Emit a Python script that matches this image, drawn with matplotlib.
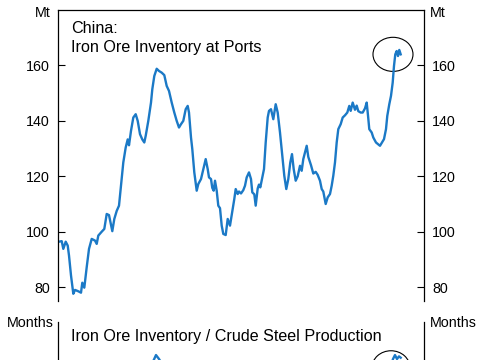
import matplotlib.pyplot as plt
from matplotlib.patches import Ellipse

plt.rcParams['font.family'] = ['Liberation Sans', 'DejaVu Sans']

# top panel: iron ore inventory at Chinese ports (Mt) against position on the time axis
t_inv = [1, 3.7, 5.3, 7.7, 9.7, 11, 13, 15.3, 17, 20.3,
         23, 24.3, 26.3, 28.7, 31, 33.7, 37, 38.7, 40.3, 43.7,
         46.3, 48.7, 51, 53, 54.3, 56.3, 58.7, 61, 63, 65.3,
         67.7, 69.7, 71, 73, 75.3, 77.7, 79.7, 82, 84.3, 86.3,
         87.7, 90.3, 93, 94.3, 96.3, 98.7, 101, 103.7, 106.3, 108.7,
         111, 113.7, 116.3, 118.7, 121, 123, 125.3, 127.7, 129.7, 131,
         133, 134.3, 136.3, 138.7, 140.3,
         143, 145.3, 147.7, 149.7, 151, 153, 154.3, 155.7, 157, 158.7,
         160.3, 162, 163.7, 165.3, 167.7, 169.7, 172, 173.7, 176.3, 177.7,
         179.7, 181, 183, 185.3, 187, 188.7, 191, 193, 194.3, 196.3,
         197.7, 199.7, 201, 202.3, 204.3, 206, 207.7, 209.7, 211, 213,
         215.3, 217.7, 219.7, 222, 224.3, 226.3, 228.3, 230.3, 232.3, 234,
         235.7, 237.7, 239.7, 242, 243.7, 245.3, 247, 248.7, 250.3, 253,
         255.3, 257.7, 259.7, 262, 263.7, 265.3, 267.7, 269.7, 272, 273.7,
         275.3,
         277, 278.7, 280.3, 282.7, 284.7, 287, 289.3, 291.3, 292.7, 294.7,
         297, 298.7, 300.3, 302.7, 304.7, 307, 308.7, 310, 311.3, 313.7,
         315.3, 318, 320.3, 322, 323.7, 326, 328, 329.3, 331.3, 333,
         334.7, 336, 337.3, 338.7, 340, 341.3, 342.7]
inventory = [96.4, 96.6, 93.8, 96.4, 95.0, 91.4, 84.2, 77.6, 79.0, 78.5,
             78.0, 81.6, 79.8, 87.2, 93.8, 97.4, 96.8, 95.6, 98.6, 100.0,
             101.0, 106.4, 106.0, 102.4, 100.2, 104.6, 107.5, 109.4, 116.6, 125.0,
             130.4, 133.3, 131.2, 136.4, 141.2, 142.4, 140.0, 135.2, 133.3, 132.2,
             134.6, 140.0, 146.6, 151.4, 156.2, 158.8, 158.0, 157.4, 156.5, 152.6,
             150.8, 146.6, 143.0, 140.0, 137.6, 138.8, 140.0, 144.2, 145.4, 143.0,
             134.0, 129.8, 121.4, 114.8, 117.2,
             119.0, 122.6, 126.2, 122.6, 119.6, 119.0, 115.8, 114.8, 118.4, 114.8,
             109.4, 108.5, 102.2, 99.2, 98.8, 104.6, 102.2, 106.0, 111.8, 115.4,
             113.6, 114.5, 113.8, 115.0, 116.6, 119.6, 121.4, 119.0, 114.2, 113.5,
             109.4, 115.6, 117.0, 116.0, 119.6, 122.6, 132.2, 141.2, 143.6, 144.2,
             140.6, 146.0, 143.0, 135.8, 127.4, 120.2, 115.4, 119.0, 125.0, 128.0,
             122.6, 118.4, 120.0, 123.8, 122.0, 126.2, 128.6, 131.0, 127.0, 124.0,
             121.0, 121.6, 120.5, 118.4, 115.4, 114.5, 110.0, 112.4, 113.6, 116.6,
             120.2,
             125.0, 132.2, 137.0, 138.8, 141.2, 142.0, 143.0, 145.4, 143.6, 146.6,
             144.0, 145.5, 143.5, 143.0, 143.0, 144.5, 146.6, 142.0, 137.0, 135.8,
             134.0, 132.2, 131.5, 131.0, 132.0, 133.4, 137.0, 141.8, 146.0, 149.0,
             153.8, 159.8, 164.0, 165.2, 163.4, 165.6, 164.0]

# bottom panel: inventory / crude steel production (months), only its top is in view
t_ratio = [1, 30, 60, 80, 90, 95, 98, 101, 106, 120, 160, 200, 240, 280,
           310, 325, 332, 335, 337, 339, 341, 342.7]
ratio = [1.20, 0.95, 1.15, 1.32, 1.42, 1.45, 1.475, 1.46, 1.43, 1.30, 1.10, 1.05,
         1.20, 1.10, 1.25, 1.35, 1.42, 1.46, 1.475, 1.46, 1.47, 1.465]

blue = '#1b79c6'

fig = plt.figure(figsize=(4.85, 3.6), dpi=100)

ax = fig.add_axes([0.1196, 0.1639, 0.7546, 0.8083])
ax.plot(t_inv, inventory, color=blue, lw=1.7)
ax.set_xlim(0, 366)
ax.set_ylim(75, 180)
ax.set_yticks([80, 100, 120, 140, 160])
ax.spines['bottom'].set_visible(False)
ax.set_xticks([])
ax.tick_params(axis='y', direction='in', length=5, width=0.8, pad=6,
               labelsize=10.3, left=True, right=True, labelleft=True, labelright=True)
for s in ['top', 'left', 'right']:
    ax.spines[s].set_linewidth(0.9)
ax.text(0.035, 0.962, 'China:\nIron Ore Inventory at Ports', transform=ax.transAxes,
        fontsize=11.6, va='top', ha='left', linespacing=1.35)
ax.add_patch(Ellipse((335, 164), 40, 12.3, fill=False, edgecolor='black', lw=0.8))
fig.text(0.104, 0.964, 'Mt', fontsize=10.3, ha='right', va='center')
fig.text(0.886, 0.964, 'Mt', fontsize=10.3, ha='left', va='center')

ax2 = fig.add_axes([0.1196, -0.7027, 0.7546, 0.8083])
ax2.plot(t_ratio, ratio, color=blue, lw=1.7)
ax2.set_xlim(0, 366)
ax2.set_ylim(0.5, 1.6)
ax2.set_xticks([])
ax2.set_yticks([])
ax2.spines['top'].set_visible(False)
ax2.spines['bottom'].set_visible(False)
for s in ['left', 'right']:
    ax2.spines[s].set_linewidth(0.9)
ax2.text(0.035, 0.9485, 'Iron Ore Inventory / Crude Steel Production', transform=ax2.transAxes,
         fontsize=11.6, va='center', ha='left')
ax2.add_patch(Ellipse((333, 1.427), 38, 0.1285, fill=False, edgecolor='black', lw=0.8))
fig.text(0.11, 0.103, 'Months', fontsize=10.3, ha='right', va='center')
fig.text(0.886, 0.103, 'Months', fontsize=10.3, ha='left', va='center')

fig.savefig('out.png', dpi=100)
